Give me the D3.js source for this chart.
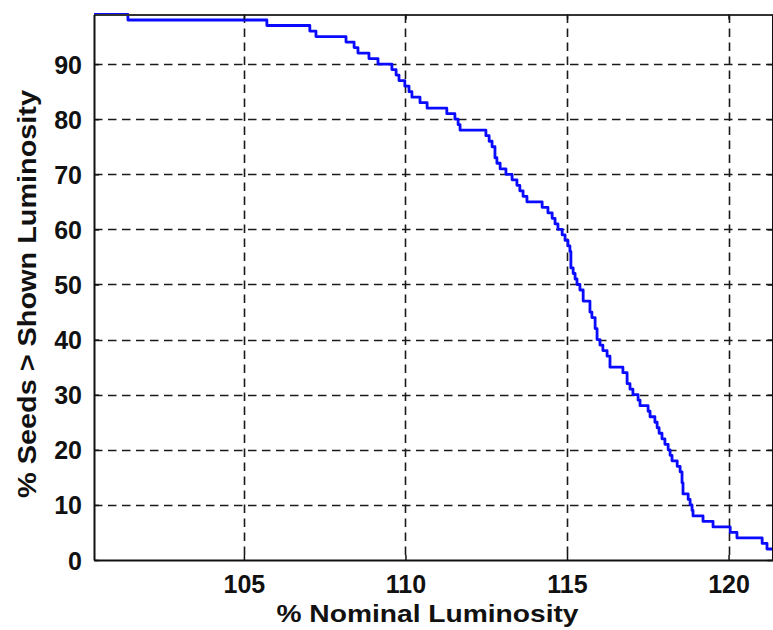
<!DOCTYPE html>
<html>
<head>
<meta charset="utf-8">
<script src="https://cdn.jsdelivr.net/npm/d3@7"></script>
<style>
  html, body { margin: 0; padding: 0; background: #fff; }
  svg { display: block; }
  text { font-family: "Liberation Sans", Arial, sans-serif; fill: #111; }
</style>
</head>
<body>
<svg id="chart" width="773" height="630"></svg>
<script>
// ---- data ----
const luminosity = [
  100.36, 101.41, 105.71, 107.04, 107.23, 108.16, 108.41, 108.53, 108.87, 109.15,
  109.58, 109.71, 109.80, 109.98, 110.11, 110.20, 110.45, 110.67, 111.28, 111.53,
  111.63, 111.69, 112.49, 112.59, 112.68, 112.77, 112.83, 112.93, 113.11, 113.30,
  113.45, 113.54, 113.64, 113.76, 114.23, 114.41, 114.54, 114.63, 114.72, 114.85,
  114.94, 115.03, 115.09, 115.12, 115.19, 115.25, 115.31, 115.40, 115.50, 115.71,
  115.77, 115.87, 115.93, 116.02, 116.11, 116.24, 116.33, 116.73, 116.86, 116.95,
  117.04, 117.20, 117.26, 117.51, 117.57, 117.72, 117.79, 117.85, 117.94, 118.03,
  118.13, 118.19, 118.25, 118.41, 118.50, 118.56, 118.59, 118.75, 118.81, 118.87,
  118.90, 119.21, 119.52, 120.05, 120.26, 121.04, 121.19, 121.36
];
const percentSeeds = [
  99, 98, 97, 96, 95, 94, 93, 92, 91, 90,
  89, 88, 87, 86, 85, 84, 83, 82, 81, 80,
  79, 78, 77, 76, 75, 73, 72, 71, 70, 69,
  68, 67, 66, 65, 64, 63, 62, 61, 60, 59,
  58, 57, 56, 53, 52, 51, 50, 49, 47, 45,
  44, 42, 40, 39, 38, 37, 35, 34, 32, 31,
  30, 29, 28, 27, 26, 25, 24, 23, 22, 21,
  20, 19, 18, 17, 16, 14, 12, 11, 10, 9,
  8, 7, 6, 5, 4, 3, 2, 2
];
const xTicks = [105, 110, 115, 120];
const yTicks = [0, 10, 20, 30, 40, 50, 60, 70, 80, 90];
const xDomain = [100.36, 121.36];
const yDomain = [0, 99];
const xLabel = "% Nominal Luminosity";
const yLabel = "% Seeds > Shown Luminosity";

(function () {
// ---- layout ----
const pLeft = 94, pRight = 772.5, pTop = 14.5, pBottom = 560;
const svg = d3.select("#chart");

const x = d3.scaleLinear().domain(xDomain).range([pLeft, pRight]);
const y = d3.scaleLinear().domain(yDomain).range([pBottom, pTop]);

const gridColor = "#1a1a1a";
const dash = "8.5,5.5";

// grid lines
const grid = svg.append("g");
grid.selectAll("line.vx").data(xTicks).join("line")
  .attr("x1", d => Math.round(x(d)) + 0.5).attr("x2", d => Math.round(x(d)) + 0.5)
  .attr("y1", pTop).attr("y2", pBottom)
  .attr("stroke", gridColor).attr("stroke-width", 1.6)
  .attr("stroke-dasharray", dash);
grid.selectAll("line.hy").data(yTicks.filter(d => d > 0)).join("line")
  .attr("y1", d => Math.round(y(d)) + 0.5).attr("y2", d => Math.round(y(d)) + 0.5)
  .attr("x1", pLeft).attr("x2", pRight)
  .attr("stroke", gridColor).attr("stroke-width", 1.6)
  .attr("stroke-dasharray", dash);

// data line (stairs)
const pts = luminosity.map((v, i) => [v, percentSeeds[i]]);
const line = d3.line().x(d => x(d[0])).y(d => y(d[1])).curve(d3.curveStepAfter);
svg.append("path")
  .datum(pts)
  .attr("d", line)
  .attr("fill", "none")
  .attr("stroke", "#0a0aff")
  .attr("stroke-width", 2.8)
  .attr("stroke-linejoin", "round");

// axes (box) via d3 axes with inward ticks
const xAxisB = d3.axisBottom(x).tickValues(xTicks).tickSizeInner(-5).tickSizeOuter(0).tickFormat(d3.format("d"));
const xAxisT = d3.axisTop(x).tickValues(xTicks).tickSizeInner(-5).tickSizeOuter(0).tickFormat("");
const yAxisL = d3.axisLeft(y).tickValues(yTicks).tickSizeInner(-5).tickSizeOuter(0).tickFormat(d3.format("d"));
const yAxisR = d3.axisRight(y).tickValues(yTicks).tickSizeInner(-5).tickSizeOuter(0).tickFormat("");

function styleAxis(g, w) {
  g.select(".domain").attr("stroke", "#111").attr("stroke-width", w);
  g.selectAll(".tick line").attr("stroke", "#111").attr("stroke-width", 1.5);
}

const gB = svg.append("g").attr("transform", `translate(0,${pBottom})`).call(xAxisB);
styleAxis(gB, 2);
gB.selectAll(".tick text")
  .attr("y", 0).attr("dy", 0)
  .attr("transform", "translate(0,32.5)")
  .style("font-size", "25px").style("font-weight", "bold")
  .style("font-family", "'Liberation Sans', Arial, sans-serif").attr("fill", "#111");

const gT = svg.append("g").attr("transform", `translate(0,${pTop})`).call(xAxisT);
styleAxis(gT, 2.2);
gT.select(".domain").attr("stroke", "#333");

const gL = svg.append("g").attr("transform", `translate(${pLeft},0)`).call(yAxisL);
styleAxis(gL, 2);
gL.selectAll(".tick text")
  .attr("x", -12).attr("dy", "0.36em")
  .style("font-size", "25px").style("font-weight", "bold")
  .style("font-family", "'Liberation Sans', Arial, sans-serif").attr("fill", "#111");

const gR = svg.append("g").attr("transform", `translate(${pRight},0)`).call(yAxisR);
styleAxis(gR, 2);

// axis labels
svg.append("text")
  .attr("x", 427.5).attr("y", 622)
  .attr("text-anchor", "middle")
  .attr("textLength", 302).attr("lengthAdjust", "spacingAndGlyphs")
  .style("font-size", "24px").style("font-weight", "bold")
  .text(xLabel);

svg.append("text")
  .attr("transform", "translate(36,294) rotate(-90)")
  .attr("text-anchor", "middle")
  .attr("textLength", 408).attr("lengthAdjust", "spacingAndGlyphs")
  .style("font-size", "25px").style("font-weight", "bold")
  .text(yLabel);
})();
</script>
</body>
</html>
